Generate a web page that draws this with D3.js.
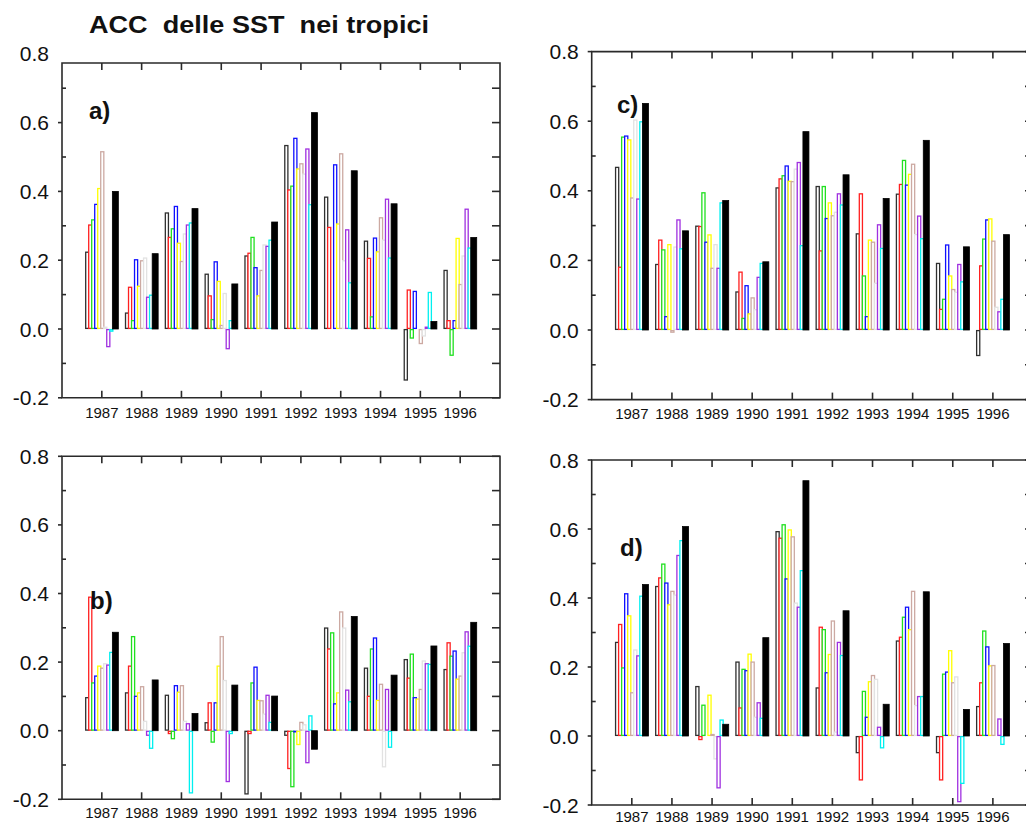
<!DOCTYPE html>
<html>
<head>
<meta charset="utf-8">
<script src="https://cdn.jsdelivr.net/npm/d3@7"></script>
<style>
  html, body { margin: 0; padding: 0; background: #fff; }
  svg { display: block; font-family: "Liberation Sans", Arial, Helvetica, sans-serif; }
</style>
</head>
<body>
<svg id="chart" width="1026" height="825"></svg>
<script>
// ---------------- DATA ----------------
const years = [1987, 1988, 1989, 1990, 1991, 1992, 1993, 1994, 1995, 1996];
const yTickLabels = ["-0.2", "0.0", "0.2", "0.4", "0.6", "0.8"];
const title = "ACC  delle SST  nei tropici";
const panelNames = ["a)", "b)", "c)", "d)"];
// series order: 9 ensemble members (outlined) + ensemble mean (filled)
const seriesNames = ["m1", "m2", "m3", "m4", "m5", "m6", "m7", "m8", "m9", "mean"];

// one row per year, values in series order
const accA = [
  [0.225, 0.304, 0.319, 0.364, 0.41, 0.517, 0.007, -0.053, -0.008, 0.40],
  [0.048, 0.123, 0.026, 0.203, 0.126, 0.20, 0.208, 0.094, 0.10, 0.219],
  [0.339, 0.268, 0.293, 0.358, 0.251, 0.198, 0.278, 0.304, 0.31, 0.35],
  [0.161, 0.098, 0.029, 0.197, 0.14, 0.012, 0.105, -0.059, 0.026, 0.131],
  [0.214, 0.222, 0.268, 0.18, 0.098, 0.172, 0.246, 0.242, 0.26, 0.311],
  [0.535, 0.406, 0.417, 0.556, 0.467, 0.482, 0.452, 0.525, 0.363, 0.629],
  [0.385, 0.297, 0.002, 0.479, 0.307, 0.511, 0.20, 0.29, 0.136, 0.46],
  [0.257, 0.207, 0.037, 0.266, 0.226, 0.325, 0.26, 0.379, 0.208, 0.364],
  [-0.15, 0.115, -0.028, 0.111, 0.002, -0.044, -0.022, 0.007, 0.108, 0.022],
  [0.172, 0.026, -0.078, 0.026, 0.265, 0.131, 0.214, 0.35, 0.237, 0.266]
];
const accB = [
  [0.098, 0.391, 0.141, 0.161, 0.19, 0.184, 0.197, 0.193, 0.23, 0.287],
  [0.112, 0.19, 0.276, 0.102, 0.112, 0.13, 0.029, -0.015, -0.053, 0.148],
  [0.105, -0.01, -0.025, 0.133, 0.114, 0.133, 0.029, 0.022, -0.183, 0.05],
  [0.025, 0.083, -0.035, 0.083, 0.19, 0.276, 0.148, -0.15, -0.01, 0.133],
  [-0.186, -0.01, 0.141, 0.187, 0.09, 0.089, 0.05, 0.105, 0.026, 0.101],
  [-0.015, -0.112, -0.165, -0.005, -0.042, 0.026, 0.019, -0.095, 0.045, -0.054],
  [0.301, 0.24, 0.287, 0.08, 0.112, 0.348, 0.301, 0.12, 0.086, 0.333],
  [0.184, 0.102, 0.24, 0.272, 0.09, 0.137, -0.107, 0.122, -0.05, 0.162],
  [0.209, 0.155, 0.225, 0.098, 0.094, 0.122, 0.205, 0.197, 0.195, 0.247],
  [0.18, 0.258, 0.219, 0.234, 0.152, 0.161, 0.229, 0.29, 0.248, 0.316]
];
const accC = [
  [0.469, 0.182, 0.556, 0.559, 0.548, 0.381, 0.605, 0.378, 0.60, 0.651],
  [0.19, 0.26, 0.232, 0.04, 0.247, -0.008, 0.24, 0.318, 0.235, 0.285],
  [0.30, 0.299, 0.396, 0.254, 0.275, 0.179, 0.247, 0.179, 0.367, 0.372],
  [0.111, 0.168, 0.035, 0.129, 0.048, 0.094, 0.06, 0.153, 0.193, 0.196],
  [0.41, 0.436, 0.445, 0.473, 0.429, 0.428, 0.464, 0.483, 0.244, 0.57],
  [0.414, 0.229, 0.414, 0.322, 0.367, 0.33, 0.34, 0.393, 0.361, 0.446],
  [0.278, 0.393, 0.157, 0.04, 0.26, 0.254, 0.136, 0.304, 0.236, 0.378],
  [0.392, 0.42, 0.489, 0.418, 0.449, 0.478, 0.276, 0.329, 0.264, 0.545],
  [0.193, 0.061, 0.09, 0.246, 0.157, 0.118, 0.11, 0.19, 0.14, 0.239],
  [-0.075, 0.186, 0.263, 0.318, 0.321, 0.257, 0.067, 0.054, 0.09, 0.274]
];
const accD = [
  [0.273, 0.325, 0.199, 0.414, 0.35, 0.127, 0.251, 0.234, 0.407, 0.439],
  [0.435, 0.46, 0.50, 0.445, 0.382, 0.421, 0.41, 0.525, 0.568, 0.607],
  [0.145, -0.012, 0.091, 0.002, 0.12, 0.006, -0.068, -0.152, 0.048, 0.034],
  [0.216, 0.083, 0.195, 0.191, 0.239, 0.216, 0.056, 0.098, 0.053, 0.285],
  [0.594, 0.575, 0.614, 0.457, 0.599, 0.579, 0.387, 0.375, 0.481, 0.74],
  [0.141, 0.317, 0.31, 0.185, 0.238, 0.335, 0.013, 0.273, 0.235, 0.363],
  [-0.05, -0.129, 0.131, 0.056, 0.159, 0.177, 0.166, 0.027, -0.036, 0.092],
  [0.277, 0.288, 0.346, 0.375, 0.31, 0.421, 0.09, 0.116, 0.116, 0.418],
  [-0.05, -0.129, 0.181, 0.187, 0.249, 0.156, 0.173, -0.192, -0.139, 0.077],
  [0.087, 0.156, 0.306, 0.26, 0.205, 0.206, -0.003, 0.051, -0.026, 0.268]
];
const panelData = [accA, accB, accC, accD];

// ---------------- STYLE / LAYOUT ----------------
const seriesColors = ["#303030", "#ff2020", "#20e020", "#1010ff", "#ffff00",
                      "#cca9a2", "#e2e2e2", "#a030e0", "#00f0f0", "#000000"];
const panels = [
  { x0: 62,    x1: 500,  yBot: 397.8, yTop: 53.8,  frameTop: 63,    lx: 89,  ly: 119, yl: 20 },
  { x0: 62,    x1: 500,  yBot: 799.3, yTop: 456.3, frameTop: 456.3, lx: 90,  ly: 609, yl: 19 },
  { x0: 591.7, x1: 1033, yBot: 399.6, yTop: 51.6,  frameTop: 51.6,  lx: 617, ly: 113, yl: 19 },
  { x0: 591.7, x1: 1033, yBot: 805,   yTop: 460,   frameTop: 460,   lx: 620, ly: 556, yl: 17 }
];
const axisColor = "#2a2a2a";

const svg = d3.select("#chart");

svg.append("text")
  .attr("x", 89).attr("y", 33)
  .attr("font-size", 23).attr("font-weight", "bold")
  .attr("fill", "#111")
  .attr("textLength", 340).attr("lengthAdjust", "spacingAndGlyphs")
  .style("white-space", "pre")
  .text(title);

panels.forEach((p, pi) => {
  const data = panelData[pi];
  const x = d3.scaleLinear().domain([1986, 1997]).range([p.x0, p.x1]);
  const y = d3.scaleLinear().domain([-0.2, 0.8]).range([p.yBot, p.yTop]);
  const pxYear = x(1) - x(0);
  const g = svg.append("g");

  // bars
  const first = -0.42, step = 0.0755, bw = 0.108;
  const meanOff = 0.265, meanW = 0.15;
  years.forEach((yr, yi) => {
    const row = data[yi];
    row.forEach((v, si) => {
      const isMean = si === seriesNames.length - 1;
      const left = isMean ? yr + meanOff : yr + first + si * step;
      const w = (isMean ? meanW : bw) * pxYear;
      const y0 = y(0), y1 = y(v);
      g.append("rect")
        .attr("x", x(left) + (isMean ? 0 : 0.6))
        .attr("y", Math.min(y0, y1) + (isMean ? 0 : 0.6))
        .attr("width", isMean ? w : w - 1.2)
        .attr("height", Math.max(isMean ? 0.5 : 0, Math.abs(y1 - y0) - (isMean ? 0 : 1.2)))
        .attr("fill", isMean ? seriesColors[si] : "#ffffff")
        .attr("stroke", seriesColors[si])
        .attr("stroke-width", isMean ? 0.8 : 1.3);
    });
  });

  // frame
  const frame = g.append("g").attr("stroke", axisColor).attr("stroke-width", 1.6).attr("fill", "none");
  frame.append("path").attr("d",
    `M${p.x0},${p.frameTop}H${p.x1}V${p.yBot}H${p.x0}Z`);

  // top / bottom year ticks (inward)
  years.forEach(yr => {
    frame.append("line").attr("x1", x(yr)).attr("x2", x(yr))
      .attr("y1", p.frameTop).attr("y2", p.frameTop + 7);
    frame.append("line").attr("x1", x(yr)).attr("x2", x(yr))
      .attr("y1", p.yBot).attr("y2", p.yBot - 7);
  });

  // y ticks every 0.1
  const ticks = d3.range(-2, 9).map(d => d / 10);
  ticks.forEach((t, ti) => {
    const ty = y(t);
    if (ty < p.frameTop - 0.5 || ty > p.yBot + 0.5) return;
    const major = ti % 2 === 0;
    if (major) {
      frame.append("line").attr("x1", p.x0 - 4).attr("x2", p.x0).attr("y1", ty).attr("y2", ty);
    } else {
      frame.append("line").attr("x1", p.x0).attr("x2", p.x0 + 4).attr("y1", ty).attr("y2", ty);
    }
    frame.append("line").attr("x1", p.x1 - 8).attr("x2", p.x1).attr("y1", ty).attr("y2", ty);
  });

  // y tick labels
  yTickLabels.forEach(lbl => {
    g.append("text")
      .attr("x", p.x0 - 13).attr("y", y(+lbl))
      .attr("dy", "0.36em")
      .attr("text-anchor", "end")
      .attr("font-size", 21)
      .attr("fill", "#111")
      .text(lbl);
  });

  // year labels
  years.forEach(yr => {
    g.append("text")
      .attr("x", x(yr)).attr("y", p.yBot + p.yl)
      .attr("text-anchor", "middle")
      .attr("font-size", 15)
      .attr("fill", "#111")
      .text(String(yr));
  });

  // panel label
  g.append("text")
    .attr("x", p.lx).attr("y", p.ly)
    .attr("font-size", 24).attr("font-weight", "bold")
    .attr("fill", "#111")
    .text(panelNames[pi]);
});
</script>
</body>
</html>
